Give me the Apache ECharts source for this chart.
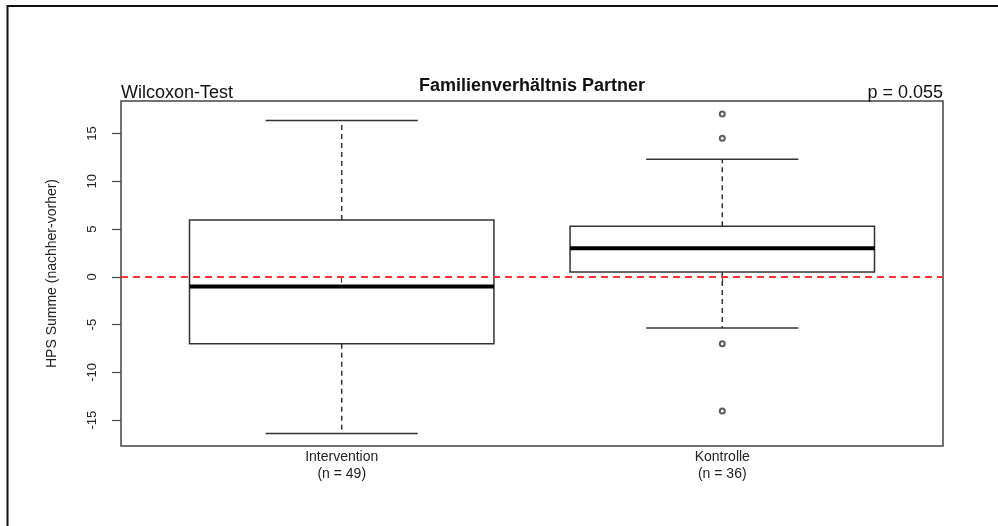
<!DOCTYPE html>
<html>
<head>
<meta charset="utf-8">
<script src="https://cdn.jsdelivr.net/npm/echarts@6/dist/echarts.min.js"></script>
<style>
html, body { margin: 0; padding: 0; background: #fff; }
#chart { width: 998px; height: 526px; }
</style>
</head>
<body>
<div id="chart"></div>
<script>
// ---- data ----
var categories = ['Intervention', 'Kontrolle'];
var nLabels = ['(n = 49)', '(n = 36)'];
var positions = [1, 2];
var minVals = [-16.4, -5.35];
var q1Vals = [-7.0, 0.5];
var medianVals = [-1.0, 3.0];
var q3Vals = [5.95, 5.3];
var maxVals = [16.35, 12.3];
var outlierGroup = [2, 2, 2, 2];
var outlierVals = [17.05, 14.5, -7.0, -14.05];
var yTicks = [-15, -10, -5, 0, 5, 10, 15];
var titleText = 'Familienverhältnis Partner';
var leftNote = 'Wilcoxon-Test';
var rightNote = 'p = 0.055';
var yName = 'HPS Summe (nachher-vorher)';
var refLine = 0;

// ---- build ----
var FONT = "'Liberation Sans', Arial, Helvetica, sans-serif";
var boxData = positions.map(function (p, i) {
  return [p, minVals[i], q1Vals[i], medianVals[i], q3Vals[i], maxVals[i]];
});
var outlierData = outlierGroup.map(function (g, i) { return [g, outlierVals[i]]; });

var chart = echarts.init(document.getElementById('chart'), null, { renderer: 'canvas' });

function renderBox(params, api) {
  var x = api.value(0);
  var vMin = api.value(1), vQ1 = api.value(2), vMed = api.value(3), vQ3 = api.value(4), vMax = api.value(5);
  var hw = 0.4, cw = 0.2;
  var pTL = api.coord([x - hw, vQ3]);
  var pBR = api.coord([x + hw, vQ1]);
  var pMedL = api.coord([x - hw, vMed]);
  var pMedR = api.coord([x + hw, vMed]);
  var pC_Q3 = api.coord([x, vQ3]);
  var pC_Max = api.coord([x, vMax]);
  var pC_Q1 = api.coord([x, vQ1]);
  var pC_Min = api.coord([x, vMin]);
  var capMaxL = api.coord([x - cw, vMax]);
  var capMaxR = api.coord([x + cw, vMax]);
  var capMinL = api.coord([x - cw, vMin]);
  var capMinR = api.coord([x + cw, vMin]);
  var stroke = '#333';
  return {
    type: 'group',
    children: [
      { type: 'line', shape: { x1: pC_Q3[0], y1: pC_Q3[1], x2: pC_Max[0], y2: pC_Max[1] },
        style: { stroke: stroke, lineWidth: 1.5, lineDash: [5, 4] } },
      { type: 'line', shape: { x1: pC_Q1[0], y1: pC_Q1[1], x2: pC_Min[0], y2: pC_Min[1] },
        style: { stroke: stroke, lineWidth: 1.5, lineDash: [5, 4] } },
      { type: 'line', shape: { x1: capMaxL[0], y1: capMaxL[1], x2: capMaxR[0], y2: capMaxR[1] },
        style: { stroke: stroke, lineWidth: 1.5 } },
      { type: 'line', shape: { x1: capMinL[0], y1: capMinL[1], x2: capMinR[0], y2: capMinR[1] },
        style: { stroke: stroke, lineWidth: 1.5 } },
      { type: 'rect', shape: { x: pTL[0], y: pTL[1], width: pBR[0] - pTL[0], height: pBR[1] - pTL[1] },
        style: { fill: 'rgba(255,255,255,0)', stroke: stroke, lineWidth: 1.5 } },
      { type: 'line', shape: { x1: pMedL[0], y1: pMedL[1], x2: pMedR[0], y2: pMedR[1] },
        style: { stroke: '#000', lineWidth: 4 } }
    ]
  };
}

var option = {
  backgroundColor: '#fff',
  animation: false,
  textStyle: { fontFamily: FONT },
  title: [
    { text: titleText, left: 532, textAlign: 'center', top: 77, padding: 0,
      textStyle: { fontFamily: FONT, fontSize: 18, fontWeight: 'bold', color: '#111' } },
    { text: leftNote, left: 121, top: 84, padding: 0,
      textStyle: { fontFamily: FONT, fontSize: 18, fontWeight: 'normal', color: '#111' } },
    { text: rightNote, right: 55, top: 84, padding: 0,
      textStyle: { fontFamily: FONT, fontSize: 18, fontWeight: 'normal', color: '#111' } }
  ],
  graphic: [
    { type: 'polyline', silent: true,
      shape: { points: [[7.5, 526], [7.5, 6], [998, 6]] },
      style: { stroke: '#111', lineWidth: 2, fill: null } }
  ],
  grid: {
    left: 121, right: 55, top: 101, bottom: 80,
    show: true, borderColor: '#444', borderWidth: 1.5, backgroundColor: 'transparent'
  },
  xAxis: {
    type: 'value', min: 0.42, max: 2.58,
    axisLine: { show: false },
    splitLine: { show: false },
    axisTick: { show: true, customValues: positions, length: 6, lineStyle: { color: '#444', width: 1.2 } },
    axisLabel: {
      customValues: positions, margin: 3, fontFamily: FONT, fontSize: 14, color: '#222', lineHeight: 17,
      formatter: function (v) {
        var i = positions.indexOf(Math.round(v));
        return i >= 0 ? categories[i] + '\n' + nLabels[i] : '';
      }
    }
  },
  yAxis: {
    type: 'value', min: -17.7, max: 18.4,
    name: yName, nameLocation: 'middle', nameGap: 62, nameRotate: 90,
    nameTextStyle: { fontFamily: FONT, fontSize: 14, color: '#222' },
    axisLine: { show: false },
    splitLine: { show: false },
    axisTick: { show: true, customValues: yTicks, length: 9, lineStyle: { color: '#444', width: 1.2 } },
    axisLabel: { customValues: yTicks, rotate: 90, margin: 22, fontFamily: FONT, fontSize: 13, color: '#222', lineHeight: 14 }
  },
  series: [
    {
      type: 'custom', name: 'box', renderItem: renderBox, data: boxData,
      encode: { x: 0, y: [1, 2, 3, 4, 5] }, z: 3,
      markLine: {
        silent: true, symbol: ['none', 'none'], label: { show: false },
        lineStyle: { color: '#ff3333', width: 1.8, type: [7, 5] },
        data: [{ yAxis: refLine }]
      }
    },
    {
      type: 'scatter', name: 'outliers', data: outlierData,
      symbol: 'emptyCircle', symbolSize: 5,
      itemStyle: { color: '#333', borderColor: '#333', borderWidth: 1.2 }, z: 4
    }
  ]
};
chart.setOption(option);
</script>
</body>
</html>
